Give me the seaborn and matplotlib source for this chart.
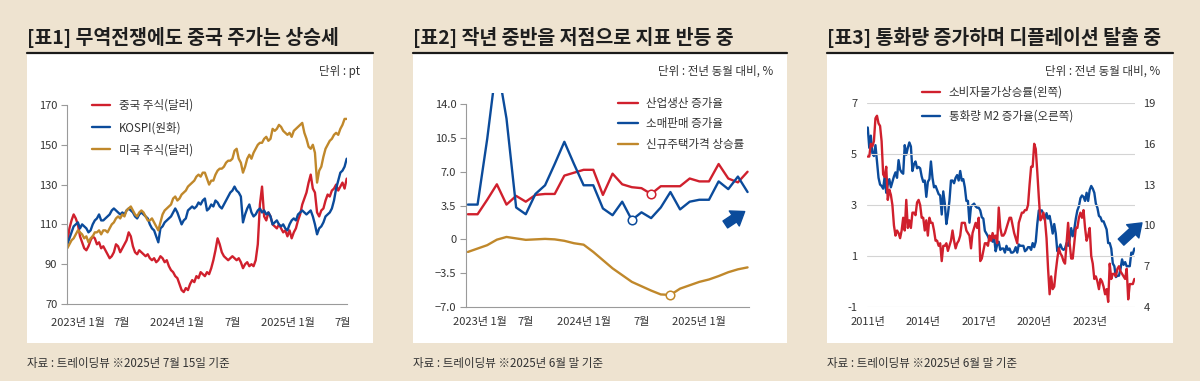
import numpy as np
import pandas as pd
import matplotlib
matplotlib.use("Agg")
import matplotlib.pyplot as plt
import seaborn as sns
from matplotlib.patches import Rectangle, FancyArrowPatch
from matplotlib.lines import Line2D
import matplotlib.transforms as mtransforms

# ---------------- data ----------------
# Panel 1: weekly index levels (start = 100), from 2023-01-02
p1_start = "2023-01-02"
china_usd = [100.5, 108, 112, 115, 113,
             110, 104, 101, 98,
             97, 99, 102, 104,
             103, 100, 101, 98,
             99, 97, 95, 93, 94,
             96, 100, 99, 96,
             98, 100, 102, 106, 104,
             99, 96, 95, 97,
             96, 95, 94, 95,
             93, 92, 93, 91, 92,
             94, 93, 91, 92,
             89, 87, 86, 84,
             83, 80, 77, 76,
             78, 77, 80, 82, 81,
             84, 83, 86, 85,
             84, 86, 85, 88, 92,
             97, 103, 100, 96,
             94, 93, 92, 93,
             94, 93, 92, 93, 91,
             88, 90, 91, 89,
             90, 89, 92, 100, 120,
             129, 114, 112, 116,
             114, 110, 109, 108,
             110, 108, 106, 107, 104,
             107, 103, 106, 108,
             112, 115, 120, 123,
             126, 131, 135, 128, 126,
             116, 114, 117, 118,
             122, 125, 124, 127,
             128, 130, 127, 129, 131,
             128, 133]
kospi_krw = [100, 103, 106, 109, 110,
             111, 108, 110, 109,
             108, 106, 107, 110,
             112, 113, 115, 112,
             112, 113, 114, 115, 117,
             118, 117, 116, 115,
             116, 115, 117, 118, 117,
             116, 114, 113, 115,
             116, 115, 114, 113,
             110, 108, 107, 104, 101,
             108, 109, 111, 112,
             113, 114, 116, 118,
             116, 113, 110, 112,
             113, 117, 118, 119, 118,
             119, 121, 120, 122,
             123, 117, 118, 120, 119,
             122, 121, 119, 118,
             120, 122, 124, 126,
             127, 129, 127, 126, 124,
             111, 115, 118, 120,
             116, 114, 115, 117, 118,
             116, 117, 115, 116,
             114, 110, 111, 112,
             110, 109, 110, 108, 107,
             110, 112, 113, 112,
             115, 116, 117, 116,
             115, 116, 117, 114, 110,
             105, 108, 109, 111,
             114, 115, 116, 118,
             122, 128, 132, 136, 137,
             139, 143]
us_usd = [98, 100, 102, 103, 105,
          107, 106, 105, 103,
          104, 101, 103, 104,
          106, 106, 107, 105,
          107, 107, 106, 108, 110,
          111, 113, 114, 113,
          115, 114, 117, 118, 119,
          117, 115, 114, 116,
          117, 116, 114, 112,
          112, 113, 111, 109, 107,
          111, 115, 117, 118,
          119, 120, 123, 124,
          122, 123, 125, 126,
          127, 129, 130, 131, 132,
          134, 135, 134, 136,
          136, 133, 130, 132, 132,
          135, 137, 138, 138,
          139, 141, 142, 142,
          143, 147, 148, 143, 141,
          136, 139, 143, 145,
          143, 146, 148, 150, 151,
          151, 153, 154, 152,
          153, 158, 157, 158,
          160, 159, 157, 156, 155,
          156, 154, 157, 158,
          159, 160, 161, 156,
          153, 149, 148, 150, 146,
          131, 137, 139, 144,
          148, 150, 152, 153,
          155, 156, 155, 158, 160,
          163, 163]
p1_labels = ["중국 주식(달러)", "KOSPI(원화)", "미국 주식(달러)"]
p1_yticks = [70, 90, 110, 130, 150, 170]
p1_xticks = ["2023-01-01", "2023-07-01", "2024-01-01", "2024-07-01", "2025-01-01", "2025-07-01"]
p1_xlabels = ["2023년 1월", "7월", "2024년 1월", "7월", "2025년 1월", "7월"]

# Panel 2: monthly, Jan 2023 - Jun 2025
p2_start = "2023-01"
ind_prod = [2.6, 2.6, 4.1, 5.7, 3.6, 4.5, 3.9, 4.6, 4.7, 4.7, 6.6, 6.9,
            7.2, 7.2, 4.6, 6.8, 5.7, 5.4, 5.3, 4.7, 5.5, 5.5, 5.5, 6.3,
            6.0, 6.0, 7.8, 6.3, 5.9, 7.0]
retail = [3.6, 3.6, 10.4, 18.4, 12.5, 3.3, 2.6, 4.7, 5.6, 7.8, 10.1, 7.8,
          5.6, 5.6, 3.2, 2.5, 3.9, 2.0, 2.8, 2.2, 3.3, 4.9, 3.1, 3.9,
          4.1, 4.1, 6.0, 5.2, 6.5, 4.9]
house = [-1.3, -0.95, -0.6, -0.03, 0.25, 0.1, -0.05, 0.0, 0.05, 0.0, -0.15, -0.4,
         -0.55, -1.3, -2.15, -3.0, -3.7, -4.4, -4.85, -5.3, -5.7, -5.75, -5.1, -4.75,
         -4.4, -4.15, -3.8, -3.4, -3.1, -2.9]
p2_labels = ["산업생산 증가율", "소매판매 증가율", "신규주택가격 상승률"]
p2_marks = {"ind": "2024-08", "retail": "2024-06", "house": "2024-10"}
p2_yticks = [-7, -3.5, 0, 3.5, 7, 10.5, 14]
p2_yticklabels = ["−7.0", "−3.5", "0", "3.5", "7.0", "10.5", "14.0"]
p2_xticks = ["2023-01", "2023-07", "2024-01", "2024-07", "2025-01"]
p2_xlabels = ["2023년 1월", "7월", "2024년 1월", "7월", "2025년 1월"]

# Panel 3: monthly, Jan 2011 - Jun 2025
p3_start = 2011
cpi = [4.9, 4.9, 5.4, 5.3, 5.5, 6.4, 6.5, 6.2, 6.1, 5.5, 4.2, 4.1,
       4.5, 3.2, 3.6, 3.4, 3.0, 2.2, 1.8, 2.0, 1.9, 1.7, 2.0, 2.5,
       2.0, 3.2, 2.1, 2.4, 2.1, 2.7, 2.7, 2.6, 3.1, 3.2, 3.0, 2.5,
       2.5, 2.0, 2.4, 1.8, 2.5, 2.3, 2.3, 2.0, 1.6, 1.6, 1.4, 1.5,
       0.8, 1.4, 1.4, 1.5, 1.2, 1.4, 1.6, 2.0, 1.6, 1.3, 1.5, 1.6,
       1.8, 2.3, 2.3, 2.3, 2.0, 1.9, 1.8, 1.3, 1.9, 2.1, 2.3, 2.1,
       2.5, 0.8, 0.9, 1.2, 1.5, 1.5, 1.4, 1.8, 1.6, 1.9, 1.7, 1.8,
       1.5, 2.9, 2.1, 1.8, 1.8, 1.9, 2.1, 2.3, 2.5, 2.5, 2.2, 1.9,
       1.7, 1.5, 2.3, 2.5, 2.7, 2.7, 2.8, 2.8, 3.0, 3.8, 4.5, 4.5,
       5.4, 5.2, 4.3, 3.3, 2.4, 2.5, 2.7, 2.4, 1.7, 0.5, -0.5, 0.2,
       -0.3, -0.2, 0.4, 0.9, 1.3, 1.1, 1.0, 0.8, 0.7, 1.5, 2.3, 1.5,
       0.9, 0.9, 1.5, 2.1, 2.1, 2.5, 2.7, 2.5, 2.8, 2.1, 1.6, 1.8,
       2.1, 1.0, 0.7, 0.1, 0.2, 0.0, -0.3, 0.1, 0.0, -0.2, -0.5, -0.3,
       -0.8, 0.7, 0.1, 0.3, 0.3, 0.2, 0.5, 0.6, 0.4, 0.3, 0.2, 0.1,
       0.5, -0.7, -0.1, -0.1, -0.1, 0.1]
m2 = [17.2, 15.7, 16.6, 15.3, 15.1, 15.9, 14.7, 13.5, 13.0, 12.9, 12.7, 13.6,
      12.4, 13.0, 13.4, 12.8, 13.2, 13.6, 13.9, 13.5, 14.8, 14.1, 13.9, 13.8,
      15.9, 15.2, 15.7, 16.1, 15.8, 14.0, 14.5, 14.7, 14.2, 14.3, 14.2, 13.6,
      13.2, 13.3, 12.1, 13.2, 13.4, 14.7, 13.5, 12.8, 12.9, 12.6, 12.3, 12.2,
      10.8, 12.5, 11.6, 10.1, 10.8, 11.8, 13.3, 13.3, 13.1, 13.5, 13.7, 13.3,
      14.0, 13.3, 13.4, 12.8, 11.8, 11.8, 10.2, 11.4, 11.5, 11.6, 11.4, 11.3,
      11.3, 11.1, 10.6, 10.5, 9.6, 9.4, 9.2, 8.9, 9.2, 8.8, 9.1, 8.1,
      8.6, 8.8, 8.2, 8.3, 8.3, 8.0, 8.5, 8.2, 8.3, 8.0, 8.0, 8.1,
      8.4, 8.0, 8.6, 8.5, 8.5, 8.5, 8.1, 8.2, 8.4, 8.4, 8.2, 8.7,
      8.4, 8.8, 10.1, 11.1, 11.1, 11.1, 10.7, 10.4, 10.9, 10.5, 10.7, 10.1,
      9.4, 10.1, 9.4, 8.1, 8.3, 8.6, 8.3, 8.2, 8.3, 8.7, 8.5, 9.0,
      9.8, 9.2, 9.7, 10.5, 11.1, 11.4, 12.0, 12.2, 12.1, 11.8, 12.4, 11.8,
      12.6, 12.9, 12.7, 12.4, 11.6, 11.3, 10.7, 10.6, 10.3, 10.3, 10.0, 9.7,
      8.7, 8.7, 8.3, 7.2, 7.0, 6.2, 6.3, 6.3, 6.8, 7.5, 7.1, 7.3,
      7.0, 7.0, 7.0, 8.0, 7.9, 8.3]
p3_labels = ["소비자물가상승률(왼쪽)", "통화량 M2 증가율(오른쪽)"]
p3_yticks_l = [-1, 1, 3, 5, 7]
p3_yticklabels_l = ["-1", "1", "3", "5", "7"]
p3_yticks_r = [4, 7, 10, 13, 16, 19]
p3_xticks = [2011, 2014, 2017, 2020, 2023]
p3_xlabels = ["2011년", "2014년", "2017년", "2020년", "2023년"]

titles = ["[표1] 무역전쟁에도 중국 주가는 상승세",
          "[표2] 작년 중반을 저점으로 지표 반등 중",
          "[표3] 통화량 증가하며 디플레이션 탈출 중"]
units = ["단위 : pt", "단위 : 전년 동월 대비, %", "단위 : 전년 동월 대비, %"]
sources = ["자료 : 트레이딩뷰 ※2025년 7월 15일 기준",
           "자료 : 트레이딩뷰 ※2025년 6월 말 기준",
           "자료 : 트레이딩뷰 ※2025년 6월 말 기준"]

# ---------------- style ----------------
RED = "#d0202d"
BLUE = "#0b4b9b"
GOLD = "#c0882b"
BG = "#eee3d0"
TXT = "#333333"
AXC = "#9a9a9a"

sns.set_theme(style="white")
plt.rcParams["font.family"] = ["Noto Sans CJK KR", "DejaVu Sans"]
plt.rcParams["axes.unicode_minus"] = True

W, H = 1200, 381
fig = plt.figure(figsize=(W / 100, H / 100), dpi=100, facecolor=BG)


def fx(px):
    return px / W


def fy(py):
    return 1 - py / H


def add_ax(l, t, r, b):
    ax = fig.add_axes([l / W, 1 - b / H, (r - l) / W, (b - t) / H])
    ax.set_facecolor("none")
    return ax


# panels background, titles, rules, sources
panels = [(27, 373), (413, 787), (827, 1173)]
for i, (l, r) in enumerate(panels):
    fig.patches.append(Rectangle((fx(l), fy(343)), (r - l) / W, (343 - 54) / H,
                                 transform=fig.transFigure, facecolor="white",
                                 edgecolor="none", zorder=-5))
    fig.lines.append(Line2D([fx(l), fx(r)], [fy(52.5), fy(52.5)], transform=fig.transFigure,
                            color="#1a1a1a", lw=1.6))
    fig.text(fx(l), fy(37), titles[i], fontsize=14, fontweight="bold", color="#1e1e1e",
             ha="left", va="center")
    fig.text(fx(l), fy(363), sources[i], fontsize=8.3, color=TXT, ha="left", va="center")

fig.text(fx(360), fy(71), units[0], fontsize=8.3, color=TXT, ha="right", va="center")
fig.text(fx(773), fy(71), units[1], fontsize=8.3, color=TXT, ha="right", va="center")
fig.text(fx(1160), fy(71), units[2], fontsize=8.3, color=TXT, ha="right", va="center")

LW = 1.7


def style_axis(ax, ybounds, xpad):
    for s in ["top", "right"]:
        ax.spines[s].set_visible(False)
    ax.spines["left"].set_color(AXC)
    ax.spines["bottom"].set_color(AXC)
    ax.spines["left"].set_linewidth(0.8)
    ax.spines["bottom"].set_linewidth(0.8)
    ax.spines["left"].set_bounds(*ybounds)
    ax.tick_params(axis="y", direction="out", length=4, width=0.8, color=AXC,
                   labelsize=8, labelcolor=TXT, pad=3, left=True)
    ax.tick_params(axis="x", length=0, labelsize=8, labelcolor=TXT, pad=xpad, bottom=True)
    ax.grid(False)
    ax.set_xlabel("")
    ax.set_ylabel("")


def shift_first_label(ax, dx_px):
    offset = mtransforms.ScaledTranslation(dx_px / 100, 0, fig.dpi_scale_trans)
    lab = ax.xaxis.get_majorticklabels()[0]
    lab.set_transform(lab.get_transform() + offset)


# ---------------- panel 1 ----------------
ax1 = add_ax(67, 101, 347, 304)
d1 = pd.date_range(p1_start, periods=len(china_usd), freq="7D")
df1 = pd.DataFrame({"date": d1, "china": china_usd, "kospi": kospi_krw, "us": us_usd})
sns.lineplot(data=df1, x="date", y="china", ax=ax1, color=RED, lw=LW, label=p1_labels[0])
sns.lineplot(data=df1, x="date", y="kospi", ax=ax1, color=BLUE, lw=LW, label=p1_labels[1])
sns.lineplot(data=df1, x="date", y="us", ax=ax1, color=GOLD, lw=LW, label=p1_labels[2])
ax1.set_xlim(pd.Timestamp("2023-01-02"), pd.Timestamp("2025-07-15"))
ax1.set_ylim(70, 172)
ax1.set_yticks(p1_yticks)
ax1.set_yticklabels([str(v) for v in p1_yticks])
ax1.set_xticks(pd.to_datetime(p1_xticks))
ax1.set_xticklabels(p1_xlabels)
style_axis(ax1, (70, 170), 10)
ax1.legend(loc="upper left", bbox_to_anchor=(fx(92), fy(99)), bbox_transform=fig.transFigure,
           frameon=False, fontsize=8.3, handlelength=1.6, handletextpad=0.7,
           labelspacing=0.8, borderpad=0, borderaxespad=0, labelcolor=TXT)
shift_first_label(ax1, 11)

# ---------------- panel 2 ----------------
ax2 = add_ax(466, 93, 749, 307)
d2 = pd.period_range(p2_start, periods=len(ind_prod), freq="M")
idx2 = np.arange(len(ind_prod))
df2 = pd.DataFrame({"m": idx2, "ind": ind_prod, "retail": retail, "house": house})
sns.lineplot(data=df2, x="m", y="ind", ax=ax2, color=RED, lw=LW, label=p2_labels[0])
sns.lineplot(data=df2, x="m", y="retail", ax=ax2, color=BLUE, lw=LW, label=p2_labels[1])
sns.lineplot(data=df2, x="m", y="house", ax=ax2, color=GOLD, lw=LW, label=p2_labels[2])
for key, col in [("ind", RED), ("retail", BLUE), ("house", GOLD)]:
    k = list(d2.strftime("%Y-%m")).index(p2_marks[key])
    sub = df2.iloc[[k]]
    sns.scatterplot(data=sub, x="m", y=key, ax=ax2, s=38, facecolor="white",
                    edgecolor=col, linewidth=1.1, zorder=5, legend=False)
ax2.set_xlim(-0.2, 29.15)
ax2.set_ylim(-7, 15.15)
ax2.set_yticks(p2_yticks)
ax2.set_yticklabels(p2_yticklabels)
xt2 = [list(d2.strftime("%Y-%m")).index(s) for s in p2_xticks]
ax2.set_xticks(xt2)
ax2.set_xticklabels(p2_xlabels)
style_axis(ax2, (-7, 14), 7)
handles, labs = ax2.get_legend_handles_labels()
ax2.legend(handles[:3], labs[:3], loc="upper left", bbox_to_anchor=(fx(618), fy(97)),
           bbox_transform=fig.transFigure, frameon=False, fontsize=8.3, handlelength=1.7,
           handletextpad=0.7, labelspacing=0.65, borderpad=0, borderaxespad=0, labelcolor=TXT)
shift_first_label(ax2, 12)
fig.patches.append(FancyArrowPatch((fx(723), fy(226)), (fx(747), fy(210)),
                                   transform=fig.transFigure,
                                   arrowstyle="simple,head_length=0.9,head_width=1.3,tail_width=0.6",
                                   mutation_scale=10, color=BLUE, zorder=10))

# ---------------- panel 3 ----------------
ax3 = add_ax(867, 103, 1135, 307)
t3 = p3_start + np.arange(len(cpi)) / 12.0
df3 = pd.DataFrame({"t": t3, "cpi": cpi, "m2": m2})
ax3r = ax3.twinx()
ax3r.set_facecolor("none")
sns.lineplot(data=df3, x="t", y="cpi", ax=ax3, color=RED, lw=LW)
sns.lineplot(data=df3, x="t", y="m2", ax=ax3r, color=BLUE, lw=LW)
ax3.set_xlim(2010.96, 2025.45)
ax3.set_ylim(-1, 7)
ax3r.set_ylim(4, 19)
ax3.set_yticks(p3_yticks_l)
ax3.set_yticklabels(p3_yticklabels_l)
ax3r.set_yticks(p3_yticks_r)
ax3r.set_yticklabels([str(v) for v in p3_yticks_r])
ax3.set_xticks(p3_xticks)
ax3.set_xticklabels(p3_xlabels)
for a in (ax3, ax3r):
    for s in a.spines.values():
        s.set_visible(False)
    a.set_xlabel("")
    a.set_ylabel("")
ax3r.grid(False)
ax3.grid(True, axis="y", color="#d4d4d4", lw=0.8)
ax3.grid(False, axis="x")
ax3.set_axisbelow(True)
ax3.tick_params(axis="y", length=0, labelsize=8, labelcolor=TXT, pad=7)
ax3.tick_params(axis="x", length=0, labelsize=8, labelcolor=TXT, pad=7)
ax3r.tick_params(axis="y", length=0, labelsize=8, labelcolor=TXT, pad=6)
ax3.set_zorder(ax3r.get_zorder() + 1)
ax3.patch.set_visible(False)
h3 = [Line2D([], [], color=RED, lw=LW), Line2D([], [], color=BLUE, lw=LW)]
ax3.legend(h3, p3_labels, loc="upper left", bbox_to_anchor=(fx(922), fy(86)),
           bbox_transform=fig.transFigure, frameon=False, fontsize=8.3, handlelength=1.6,
           handletextpad=0.7, labelspacing=0.95, borderpad=0, borderaxespad=0, labelcolor=TXT)
fig.patches.append(FancyArrowPatch((fx(1119), fy(244)), (fx(1144), fy(221)),
                                   transform=fig.transFigure,
                                   arrowstyle="simple,head_length=0.9,head_width=1.3,tail_width=0.6",
                                   mutation_scale=10, color=BLUE, zorder=10))

fig.savefig("out.png", dpi=100, facecolor=BG)
